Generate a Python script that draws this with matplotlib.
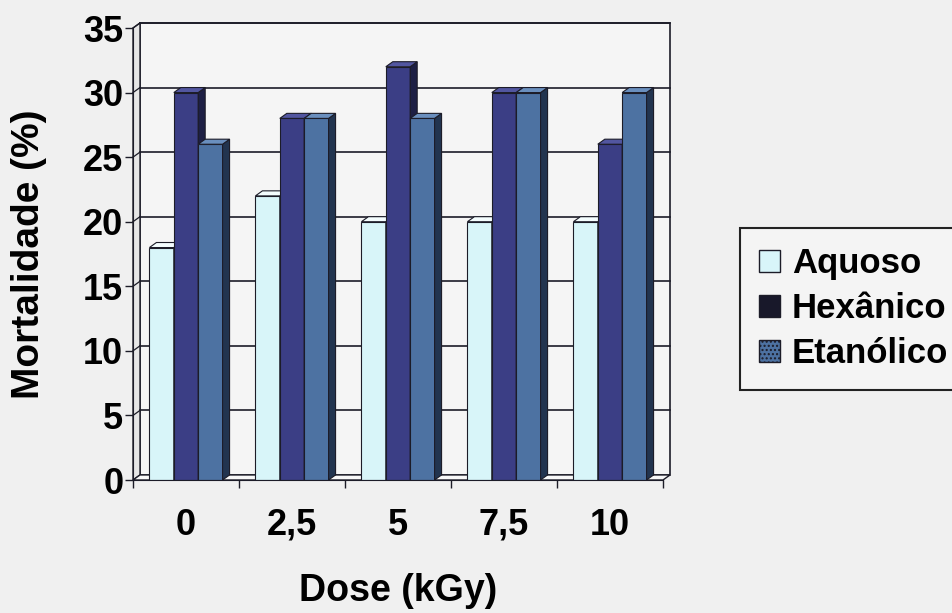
import matplotlib
matplotlib.use("Agg")
import matplotlib.pyplot as plt
from matplotlib.patches import Polygon, Patch

# data
doses = ["0", "2,5", "5", "7,5", "10"]
series = ["Aquoso", "Hexânico", "Etanólico"]
aquoso = [18, 22, 20, 20, 20]
hexanico = [30, 28, 32, 30, 26]
etanolico = [26, 28, 28, 30, 30]
y_ticks = [0, 5, 10, 15, 20, 25, 30, 35]

values = [aquoso, hexanico, etanolico]
front_cols = ["#d8f5f9", "#3b3e85", "#4d72a2"]
side_cols = ["#9cc4cc", "#1d1f44", "#22344f"]
top_cols = ["#f4fdfe", "#5256a0", "#6a8fbe"]
edge = "#1c1c28"

plt.rcParams["font.family"] = ["Liberation Sans", "DejaVu Sans"]
plt.rcParams["font.weight"] = "bold"

fig = plt.figure(figsize=(9.53, 6.13), dpi=100, facecolor="#f0f0f0")
ax = fig.add_axes([133 / 953, 1 - 480 / 613, 530 / 953, 452 / 613])
ax.set_facecolor("none")

n = len(doses)
ymax = 35
dx = 0.066   # depth offset, category units
dy = 0.39    # depth offset, data units
w = 0.23
offs = [-w, 0.0, w]
x0, x1 = -0.5, n - 0.5

# back wall, side wall and floor
ax.add_patch(Polygon([(x0 + dx, dy), (x1 + dx, dy), (x1 + dx, ymax + dy), (x0 + dx, ymax + dy)],
                     closed=True, fc="#f5f5f5", ec=edge, lw=1.2, clip_on=False, zorder=1))
ax.add_patch(Polygon([(x0, 0), (x0 + dx, dy), (x0 + dx, ymax + dy), (x0, ymax)],
                     closed=True, fc="#e6e6e6", ec=edge, lw=1.0, clip_on=False, zorder=1))
ax.add_patch(Polygon([(x0, 0), (x1, 0), (x1 + dx, dy), (x0 + dx, dy)],
                     closed=True, fc="#f8f8f8", ec=edge, lw=1.0, clip_on=False, zorder=1))
for v in y_ticks[1:]:
    ax.plot([x0 + dx, x1 + dx], [v + dy, v + dy], color=edge, lw=1.2, clip_on=False, zorder=2)
    ax.plot([x0, x0 + dx], [v, v + dy], color=edge, lw=0.9, clip_on=False, zorder=2)

# 3D-looking columns
z = 3
for i in range(n):
    for s in range(len(series)):
        h = values[s][i]
        xc = i + offs[s]
        l, r = xc - w / 2, xc + w / 2
        ax.bar(xc, h, width=w, color=front_cols[s], edgecolor=edge, linewidth=0.8, zorder=z)
        ax.add_patch(Polygon([(r, 0), (r + dx, dy), (r + dx, h + dy), (r, h)], closed=True,
                             fc=side_cols[s], ec=edge, lw=0.8, clip_on=False, zorder=z))
        ax.add_patch(Polygon([(l, h), (r, h), (r + dx, h + dy), (l + dx, h + dy)], closed=True,
                             fc=top_cols[s], ec=edge, lw=0.8, clip_on=False, zorder=z))
        z += 1

ax.set_xlim(x0, x1)
ax.set_ylim(0, ymax)
for side in ["top", "right"]:
    ax.spines[side].set_visible(False)
ax.spines["left"].set_color(edge)
ax.spines["bottom"].set_color(edge)
ax.spines["left"].set_zorder(50)
ax.spines["bottom"].set_zorder(50)

fs = 26
ax.set_yticks(y_ticks)
ax.set_yticklabels([str(v) for v in y_ticks], fontsize=fs, fontweight="bold")
ax.tick_params(axis="y", direction="out", length=6, width=1, color=edge, pad=1)
ax.set_xticks(range(n))
ax.set_xticklabels(doses, fontsize=fs, fontweight="bold")
ax.set_xticks([k - 0.5 for k in range(n + 1)], minor=True)
ax.tick_params(axis="x", which="major", length=0, pad=20)
ax.tick_params(axis="x", which="minor", direction="out", length=6, width=1, color=edge)

ax.set_xlabel("Dose (kGy)", fontsize=27, fontweight="bold", labelpad=22)
ax.set_ylabel("Mortalidade (%)", fontsize=28, fontweight="bold", labelpad=26)

handles = [Patch(facecolor=front_cols[0], edgecolor=edge),
           Patch(facecolor="#18182a", edgecolor=edge),
           Patch(facecolor=front_cols[2], edgecolor=edge, hatch="....")]
leg = fig.legend(handles, series, loc="upper left", bbox_to_anchor=(740 / 953, 1 - 228 / 613),
                 borderaxespad=0, fancybox=False, frameon=True, edgecolor="#222222",
                 facecolor="#f4f4f4", prop={"size": 25, "weight": "bold"},
                 handlelength=0.6, handleheight=0.6, handletextpad=0.35,
                 labelspacing=0.35, borderpad=0.55, framealpha=1)
leg.get_frame().set_linewidth(1.5)

fig.savefig("out.png", dpi=100, facecolor=fig.get_facecolor())
